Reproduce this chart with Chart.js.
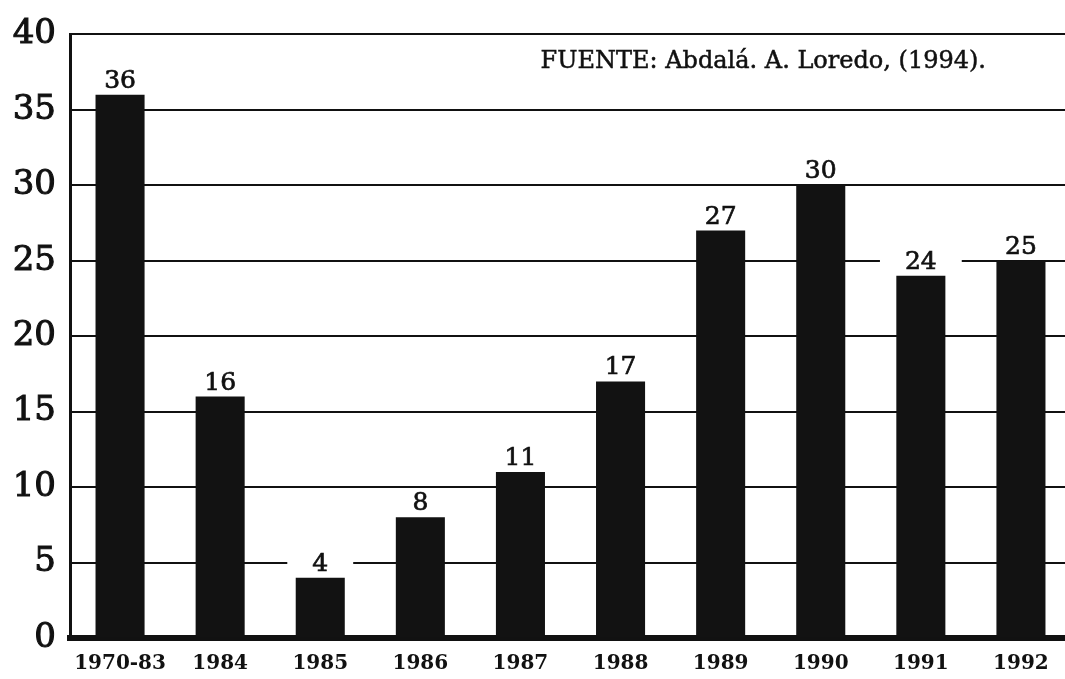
<!DOCTYPE html>
<html>
<head>
<meta charset="utf-8">
<script src="https://cdn.jsdelivr.net/npm/chart.js@4"></script>
<style>
    html, body { margin: 0; padding: 0; background: #fff; overflow: hidden; }
</style>
</head>
<body>
<canvas id="bar-chart" width="1075" height="679"></canvas>
<script>
    // *** DATA ***
    var years = ['1970-83', '1984', '1985', '1986', '1987', '1988', '1989', '1990', '1991', '1992'];
    var values = [36, 16, 4, 8, 11, 17, 27, 30, 24, 25];
    var yTicks = [0, 5, 10, 15, 20, 25, 30, 35, 40];
    var sourceNote = 'FUENTE: Abdalá. A. Loredo, (1994).';

    var ink = '#111111';

    // value above each bar, on a white box that cuts the grid lines
    var barLabels = {
        id: 'barLabels',
        afterDatasetsDraw: function(chart) {
            var ctx = chart.ctx;
            var meta = chart.getDatasetMeta(0);
            ctx.save();
            ctx.font = '25px "DejaVu Serif"';
            ctx.textAlign = 'center';
            ctx.textBaseline = 'bottom';
            ctx.lineWidth = 0.7;
            ctx.strokeStyle = ink;
            meta.data.forEach(function(bar, i) {
                var txt = String(values[i]);
                var w = ctx.measureText(txt).width + 50;
                ctx.fillStyle = '#fff';
                ctx.fillRect(bar.x - w / 2, bar.y - 28, w, 26);
                ctx.fillStyle = ink;
                ctx.fillText(txt, bar.x, bar.y - 1);
                ctx.strokeText(txt, bar.x, bar.y - 1);
            });
            ctx.restore();
        }
    };

    var note = {
        id: 'note',
        afterDraw: function(chart) {
            var ctx = chart.ctx;
            ctx.save();
            ctx.font = '24px "DejaVu Serif"';
            ctx.fillStyle = ink;
            ctx.strokeStyle = ink;
            ctx.lineWidth = 0.5;
            ctx.textAlign = 'right';
            ctx.textBaseline = 'middle';
            ctx.fillText(sourceNote, 986, 62);
            ctx.strokeText(sourceNote, 986, 62);
            ctx.restore();
        }
    };

    var barChart = new Chart(document.getElementById('bar-chart'), {
        type: 'bar',
        data: {
            labels: years,
            datasets: [{
                data: values,
                backgroundColor: '#121212',
                borderWidth: 0,
                barPercentage: 0.49,
                categoryPercentage: 1
            }]
        },
        options: {
            responsive: false,
            animation: false,
            layout: { padding: { top: 30, right: 4, left: 0, bottom: 0 } },
            plugins: {
                legend: { display: false },
                tooltip: { enabled: false }
            },
            scales: {
                x: {
                    grid: { display: false },
                    border: { display: true, color: ink, width: 6 },
                    ticks: {
                        color: ink,
                        padding: 6,
                        maxRotation: 0,
                        font: { family: 'DejaVu Serif', size: 20, weight: 'bold' }
                    },
                    afterFit: function(scale) { scale.height = 41; }
                },
                y: {
                    min: 0,
                    max: 40,
                    afterBuildTicks: function(scale) {
                        scale.ticks = yTicks.map(function(v) { return { value: v }; });
                    },
                    grid: { color: ink, lineWidth: 2, drawTicks: false },
                    border: { display: true, color: ink, width: 3 },
                    ticks: {
                        color: ink,
                        padding: 14,
                        textStrokeColor: ink,
                        textStrokeWidth: 1,
                        font: { family: 'DejaVu Serif', size: 34 }
                    },
                    afterFit: function(scale) { scale.width = 70; }
                }
            }
        },
        plugins: [barLabels, note]
    });
</script>
</body>
</html>
